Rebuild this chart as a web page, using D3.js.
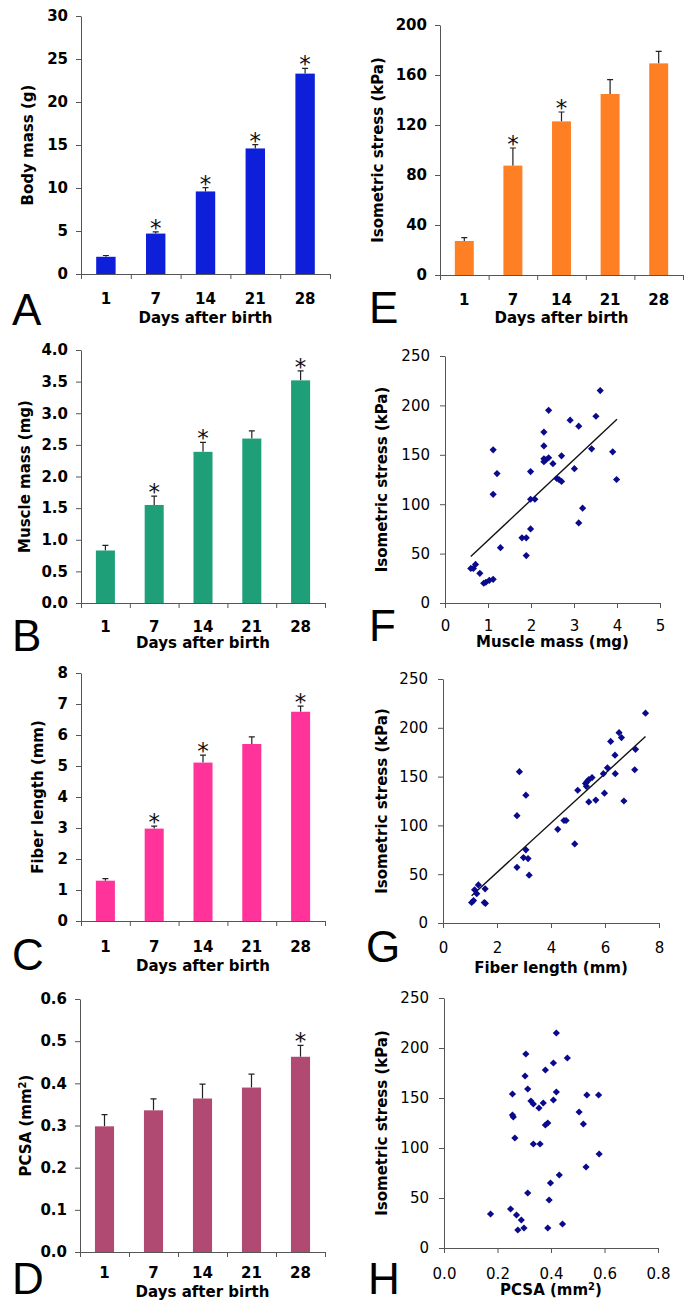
<!DOCTYPE html>
<html>
<head>
<meta charset="utf-8">
<script src="https://cdn.jsdelivr.net/npm/d3@7"></script>
<style>
  body { margin: 0; background: #fff; }
  svg { display: block; }
</style>
</head>
<body>
<div id="chart"></div>
<script>
// days after birth (categories of all bar panels)
const days = ["1", "7", "14", "21", "28"];

// bar panels: mean, upper error (SE) and significance flag
const bodyMass = [2.0, 4.7, 9.6, 14.6, 23.3];
const bodyMassErr = [0.15, 0.2, 0.45, 0.45, 0.6];
const bodyMassSig = [0, 1, 1, 1, 1];

const muscleMass = [0.83, 1.55, 2.39, 2.60, 3.52];
const muscleMassErr = [0.08, 0.14, 0.15, 0.12, 0.15];
const muscleMassSig = [0, 1, 1, 0, 1];

const fiberLength = [1.30, 2.98, 5.11, 5.71, 6.75];
const fiberLengthErr = [0.07, 0.08, 0.24, 0.23, 0.18];
const fiberLengthSig = [0, 1, 1, 0, 1];

const pcsa = [0.298, 0.336, 0.364, 0.390, 0.463];
const pcsaErr = [0.028, 0.027, 0.034, 0.032, 0.027];
const pcsaSig = [0, 0, 0, 0, 1];

const stress = [27.2, 87.5, 122.9, 144.8, 169.3];
const stressErr = [2.7, 14.1, 7.5, 11.5, 9.6];
const stressSig = [0, 1, 1, 0, 0];

// scatter panels: [x, isometric stress]
const stressVsMuscle = [
  [0.60,35],[0.66,35],[0.71,39],[0.81,30],[0.90,20],[0.95,21],[1.03,23],[1.12,24],
  [1.12,155],[1.21,131],[1.12,110],[1.29,56],
  [1.79,66],[1.89,66],[1.89,48],[1.99,75],[1.99,133],[1.99,105],[2.09,105],
  [2.30,173],[2.30,159],[2.41,195],[2.30,146],[2.30,143],[2.35,145],[2.41,147],[2.51,141],
  [2.71,149],[2.60,126],[2.65,125],[2.71,123],
  [2.91,185],[3.01,136],[3.11,179],[3.11,81],[3.20,96],[3.41,156],[3.51,189],[3.61,215],
  [3.90,153],[3.99,125]
];
const trendMuscle = [[0.6, 47], [4.0, 186]];

const stressVsFiber = [
  [1.06,21],[1.13,23],[1.17,34],[1.25,30],[1.31,39],[1.56,35],[1.53,21],[1.57,20],
  [2.74,110],[2.83,155],[3.07,131],[2.74,57],[3.07,75],[2.98,67],[3.15,66],[3.19,49],
  [4.25,96],[4.48,105],[4.56,105],[4.88,81],[4.99,136],[5.28,143],[5.34,145],[5.40,147],
  [5.52,149],[5.31,140],[5.40,124],[5.66,126],[5.94,153],[5.98,133],[6.09,159],[6.21,186],
  [6.37,172],[6.38,153],[6.52,195],[6.61,190],[6.70,125],[7.13,178],[7.10,157],[7.50,215]
];
const trendFiber = [[1.06, 28], [7.5, 191]];

const stressVsPcsa = [
  [0.174,34],[0.249,39],[0.271,33],[0.276,18],[0.289,28],[0.299,20],[0.388,20],[0.443,24],
  [0.313,55],[0.393,48],[0.398,65],[0.431,73],[0.531,81],[0.580,94],
  [0.265,110],[0.334,104],[0.359,104],[0.259,131],[0.256,133],[0.256,154],[0.313,159],
  [0.325,147],[0.334,144],[0.355,140],[0.371,145],[0.379,123],[0.388,125],[0.409,148],
  [0.420,156],[0.303,172],[0.306,194],[0.379,178],[0.409,185],[0.420,215],[0.461,190],
  [0.505,136],[0.521,124],[0.534,153],[0.578,153]
];

const FONT = "'DejaVu Sans', Verdana, sans-serif";

const svg = d3.select("#chart").append("svg")
  .attr("width", 693)
  .attr("height", 1305);
svg.append("rect").attr("width", 693).attr("height", 1305).attr("fill", "#fff");

function styleAxis(sel, weight, size) {
  sel.select(".domain").attr("stroke", "#555");
  sel.selectAll(".tick line").attr("stroke", "#555");
  sel.selectAll(".tick text")
    .attr("fill", "#000")
    .attr("font-family", FONT)
    .attr("font-size", size)
    .attr("font-weight", weight);
}

function panelLetter(letter, x, y) {
  svg.append("text")
    .attr("x", x).attr("y", y)
    .attr("font-family", "'Liberation Sans', Arial, sans-serif")
    .attr("font-size", 44)
    .attr("fill", "#000")
    .text(letter);
}

function yTitle(g, label, x, y, sup) {
  const t = g.append("text")
    .attr("transform", `translate(${x},${y}) rotate(-90)`)
    .attr("text-anchor", "middle")
    .attr("dy", "0.35em")
    .attr("font-family", FONT)
    .attr("font-size", 15)
    .attr("font-weight", "bold")
    .attr("fill", "#000");
  if (sup) {
    t.append("tspan").text(label);
    t.append("tspan").attr("font-size", 10).attr("baseline-shift", "super").text(sup);
    t.append("tspan").text(")");
  } else {
    t.text(label);
  }
}

function barPanel(p) {
  const g = svg.append("g");
  const x = d3.scaleBand().domain(days).range([p.left, p.right]);
  const y = d3.scaleLinear().domain([0, p.yMax]).range([p.bottom, p.top]);

  const ya = g.append("g")
    .attr("transform", `translate(${p.left},0)`)
    .call(d3.axisLeft(y)
      .tickValues(d3.range(0, p.yMax + p.step / 2, p.step))
      .tickFormat(d3.format(p.fmt))
      .tickSize(5).tickSizeOuter(0).tickPadding(8));
  styleAxis(ya, "bold", 15);

  // x axis: tick marks on the category boundaries
  const xb = d3.scaleLinear().domain([0, days.length]).range([p.left, p.right]);
  const xa = g.append("g")
    .attr("transform", `translate(0,${p.bottom})`)
    .call(d3.axisBottom(xb).tickValues(d3.range(0, days.length + 1))
      .tickFormat("").tickSize(5).tickSizeOuter(0));
  styleAxis(xa, "bold", 15);

  g.selectAll(".xlab").data(days).join("text")
    .attr("x", d => x(d) + x.bandwidth() / 2)
    .attr("y", p.bottom + p.labelDy)
    .attr("text-anchor", "middle")
    .attr("font-family", FONT).attr("font-size", 15).attr("font-weight", "bold")
    .text(d => d);

  g.append("text")
    .attr("x", (p.left + p.right) / 2)
    .attr("y", p.bottom + p.titleDy)
    .attr("text-anchor", "middle")
    .attr("font-family", FONT).attr("font-size", 15).attr("font-weight", "bold")
    .text("Days after birth");

  const bw = x.bandwidth() * 0.39;
  const rows = days.map((d, i) => ({ d, v: p.values[i], e: p.errors[i], s: p.sig[i] }));

  // error bars (upper half only)
  g.selectAll(".err").data(rows).join("path")
    .attr("d", r => {
      const cx = x(r.d) + x.bandwidth() / 2;
      return `M${cx},${y(r.v)}V${y(r.v + r.e)}M${cx - 3},${y(r.v + r.e)}H${cx + 3}`;
    })
    .attr("stroke", "#222").attr("stroke-width", 1.2).attr("fill", "none");

  g.selectAll(".bar").data(rows).join("rect")
    .attr("x", r => x(r.d) + (x.bandwidth() - bw) / 2)
    .attr("y", r => y(r.v))
    .attr("width", bw)
    .attr("height", r => y(0) - y(r.v))
    .attr("fill", p.color);

  g.selectAll(".star").data(rows.filter(r => r.s)).join("text")
    .attr("x", r => x(r.d) + x.bandwidth() / 2)
    .attr("y", r => y(r.v + r.e) + 4)
    .attr("text-anchor", "middle")
    .attr("font-family", FONT).attr("font-size", 23).attr("fill", "#111")
    .text("*");

  yTitle(g, p.yLabel, p.yTitleX, (p.top + p.bottom) / 2, p.sup);
  panelLetter(p.letter, p.letterX, p.letterY);
}

function scatterPanel(p) {
  const g = svg.append("g");
  const x = d3.scaleLinear().domain([0, p.xMax]).range([p.left, p.right]);
  const y = d3.scaleLinear().domain([0, 250]).range([p.bottom, p.top]);

  const ya = g.append("g")
    .attr("transform", `translate(${p.left},0)`)
    .call(d3.axisLeft(y).tickValues(d3.range(0, 251, 50))
      .tickSize(5).tickSizeOuter(0).tickPadding(10));
  styleAxis(ya, "normal", 15);

  const xa = g.append("g")
    .attr("transform", `translate(0,${p.bottom})`)
    .call(d3.axisBottom(x).tickValues(d3.range(0, p.xMax + p.xStep / 2, p.xStep))
      .tickFormat(d3.format(p.fmt)).tickSize(5).tickSizeOuter(0).tickPadding(p.xPad));
  styleAxis(xa, "normal", 15);

  if (p.trend) {
    g.append("line")
      .attr("x1", x(p.trend[0][0])).attr("y1", y(p.trend[0][1]))
      .attr("x2", x(p.trend[1][0])).attr("y2", y(p.trend[1][1]))
      .attr("stroke", "#111").attr("stroke-width", 1.4);
  }

  g.selectAll(".pt").data(p.points).join("path")
    .attr("d", d3.symbol(d3.symbolSquare, 26))
    .attr("transform", d => `translate(${x(d[0])},${y(d[1])}) rotate(45)`)
    .attr("fill", "#0a0a8c");

  const xt = g.append("text")
    .attr("x", (p.left + p.right) / 2)
    .attr("y", p.bottom + p.titleDy)
    .attr("text-anchor", "middle")
    .attr("font-family", FONT).attr("font-size", 15).attr("font-weight", "bold");
  if (p.sup) {
    xt.append("tspan").text(p.xLabel);
    xt.append("tspan").attr("font-size", 10).attr("baseline-shift", "super").text(p.sup);
    xt.append("tspan").text(")");
  } else {
    xt.text(p.xLabel);
  }

  yTitle(g, "Isometric stress (kPa)", p.yTitleX, (p.top + p.bottom) / 2);
  panelLetter(p.letter, p.letterX, p.letterY);
}

barPanel({ values: bodyMass, errors: bodyMassErr, sig: bodyMassSig, color: "#0d1fd8",
  yMax: 30, step: 5, fmt: "d", yLabel: "Body mass (g)",
  left: 81, right: 330, top: 16, bottom: 274, labelDy: 30, titleDy: 49,
  yTitleX: 28, letter: "A", letterX: 12, letterY: 325 });

barPanel({ values: muscleMass, errors: muscleMassErr, sig: muscleMassSig, color: "#1f9f78",
  yMax: 4, step: 0.5, fmt: ".1f", yLabel: "Muscle mass (mg)",
  left: 81, right: 325, top: 350, bottom: 603, labelDy: 29, titleDy: 45,
  yTitleX: 25, letter: "B", letterX: 12, letterY: 651 });

barPanel({ values: fiberLength, errors: fiberLengthErr, sig: fiberLengthSig, color: "#ff3399",
  yMax: 8, step: 1, fmt: "d", yLabel: "Fiber length (mm)",
  left: 81, right: 325, top: 673, bottom: 921, labelDy: 31, titleDy: 50,
  yTitleX: 38, letter: "C", letterX: 12, letterY: 970 });

barPanel({ values: pcsa, errors: pcsaErr, sig: pcsaSig, color: "#b04a73",
  yMax: 0.6, step: 0.1, fmt: ".1f", yLabel: "PCSA (mm", sup: "2",
  left: 80, right: 325, top: 999, bottom: 1252, labelDy: 26, titleDy: 45,
  yTitleX: 26, letter: "D", letterX: 12, letterY: 1294 });

barPanel({ values: stress, errors: stressErr, sig: stressSig, color: "#ff7f24",
  yMax: 200, step: 40, fmt: "d", yLabel: "Isometric stress (kPa)",
  left: 440, right: 683, top: 25, bottom: 275, labelDy: 30, titleDy: 48,
  yTitleX: 378, letter: "E", letterX: 369, letterY: 323 });

scatterPanel({ points: stressVsMuscle, trend: trendMuscle, xMax: 5, xStep: 1, fmt: "d",
  xLabel: "Muscle mass (mg)", left: 445, right: 660, top: 356, bottom: 603,
  xPad: 12, titleDy: 44, yTitleX: 382, letter: "F", letterX: 369, letterY: 641 });

scatterPanel({ points: stressVsFiber, trend: trendFiber, xMax: 8, xStep: 2, fmt: "d",
  xLabel: "Fiber length (mm)", left: 443, right: 659, top: 679, bottom: 923,
  xPad: 14, titleDy: 50, yTitleX: 382, letter: "G", letterX: 366, letterY: 962 });

scatterPanel({ points: stressVsPcsa, xMax: 0.8, xStep: 0.2, fmt: ".1f",
  xLabel: "PCSA (mm", sup: "2", left: 444, right: 658, top: 998, bottom: 1248,
  xPad: 15, titleDy: 47, yTitleX: 382, letter: "H", letterX: 368, letterY: 1294 });
</script>
</body>
</html>
